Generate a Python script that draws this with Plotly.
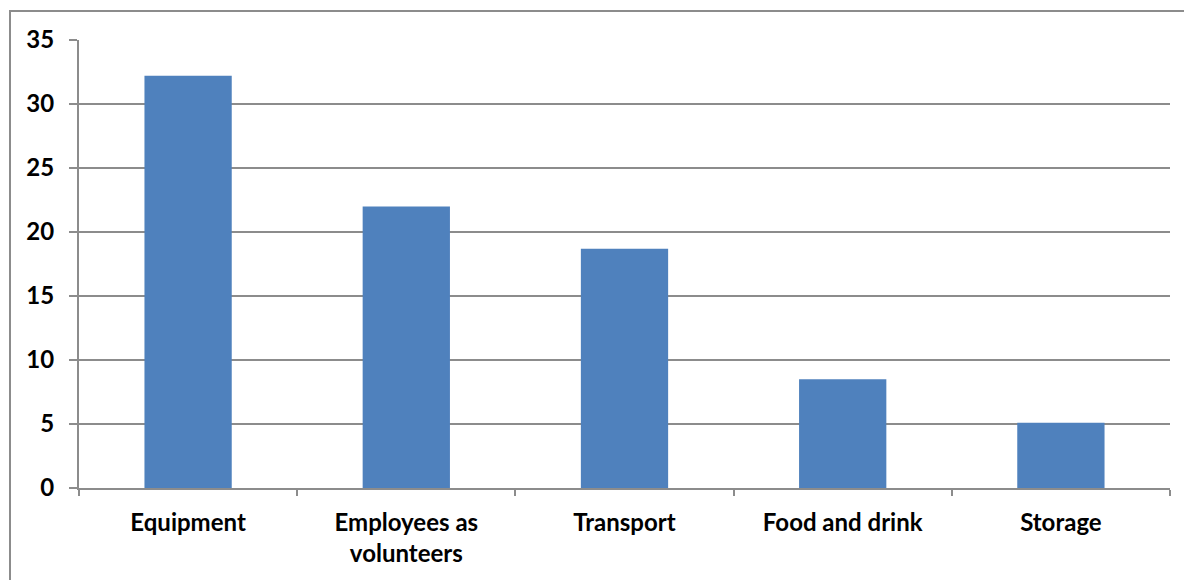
import plotly.graph_objects as go

categories = ["Equipment", "Employees as<br>volunteers", "Transport", "Food and drink", "Storage"]
values = [32.2, 22.0, 18.7, 8.5, 5.1]
y_ticks = [0, 5, 10, 15, 20, 25, 30, 35]

GRAY = "#8c8c8c"
FAM = "Lato, 'Open Sans', Arial, sans-serif"
TICKFONT = dict(family=FAM, size=24, color="#000000", weight="bold")

fig = go.Figure(go.Bar(
    x=categories, y=values, marker=dict(color="#4F81BD", line=dict(width=0)),
))

# page body has an 8px margin, so the figure is sized/offset to compensate
fig.update_layout(
    width=1184, height=572,
    margin=dict(l=71, r=22, t=32, b=92),
    paper_bgcolor="white", plot_bgcolor="white",
    bargap=0.6, showlegend=False,
    font=dict(family=FAM, size=24, color="#000000"),
    xaxis=dict(
        showline=True, linecolor=GRAY, linewidth=2,
        ticks="outside", tickson="boundaries", ticklen=6, tickcolor=GRAY, tickwidth=2,
        tickfont=TICKFONT,
        ticklabelstandoff=12,
    ),
    yaxis=dict(
        range=[0, 35], tickvals=y_ticks,
        showline=True, linecolor=GRAY, linewidth=2,
        showgrid=True, gridcolor=GRAY, gridwidth=2,
        ticks="outside", ticklen=8, tickcolor=GRAY, tickwidth=2,
        tickfont=TICKFONT,
        ticklabelstandoff=10, zeroline=False,
    ),
    shapes=[dict(
        type="rect", xref="paper", yref="paper",
        x0=(10 - 79) / 1091, x1=1.1, y0=-0.5, y1=(488 - 11) / 448,
        line=dict(color=GRAY, width=2), fillcolor="rgba(0,0,0,0)", layer="below",
    )],
)

fig.write_html("out.html")
